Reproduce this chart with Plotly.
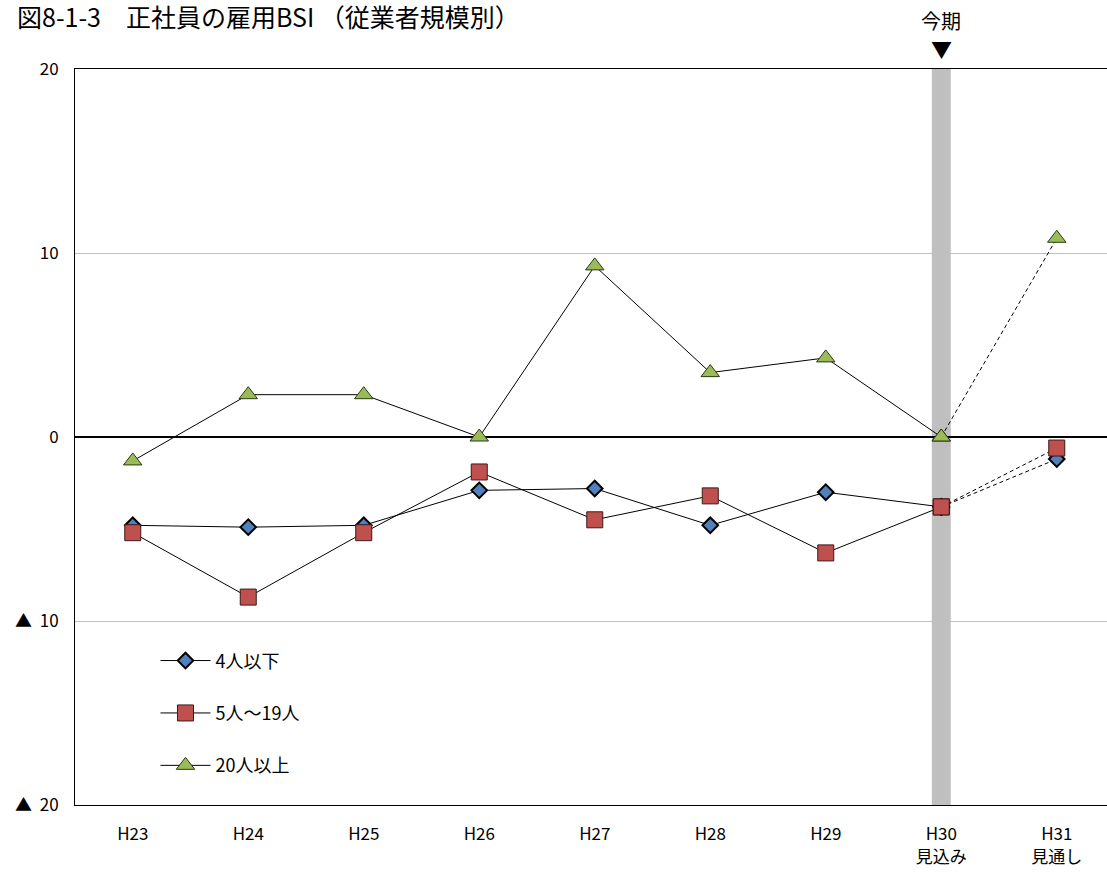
import plotly.graph_objects as go

categories = ["H23", "H24", "H25", "H26", "H27", "H28", "H29", "H30<br>見込み", "H31<br>見通し"]
s_small = [-4.8, -4.9, -4.8, -2.9, -2.8, -4.8, -3.0, -3.8, -1.2]   # 4人以下
s_mid = [-5.2, -8.7, -5.2, -1.9, -4.5, -3.2, -6.3, -3.8, -0.6]     # 5人～19人
s_large = [-1.3, 2.3, 2.3, 0.0, 9.3, 3.5, 4.3, 0.0, 10.8]          # 20人以上
series_names = ["4人以下", "5人～19人", "20人以上"]
y_ticks = [20, 10, 0, -10, -20]
y_tick_labels = ["20", "10", "0", "▲  10", "▲  20"]

FONT = "Noto Sans CJK JP"
x_idx = list(range(len(categories)))

styles = [
    dict(symbol="diamond", size=12, color="#4F81BD", line=dict(color="#000000", width=2)),
    dict(symbol="square", size=16, color="#C0504D", line=dict(color="#3a1a19", width=1)),
    dict(symbol="triangle-up", size=16, color="#9BBB59", line=dict(color="#2b3a14", width=1)),
]

fig = go.Figure()
all_series = [s_small, s_mid, s_large]
# dashed forecast segments first (drawn underneath)
for vals, st in zip(all_series, styles):
    fig.add_trace(go.Scatter(
        x=x_idx[7:], y=vals[7:], mode="lines+markers",
        line=dict(color="black", width=1, dash="4px,3px"),
        marker=st, showlegend=False, hoverinfo="skip"))
for i, (vals, st, name) in enumerate(zip(all_series, styles, series_names)):
    fig.add_trace(go.Scatter(
        x=x_idx[:8], y=vals[:8], mode="lines+markers", name=name,
        legendgroup=f"g{i}",
        line=dict(color="black", width=1),
        marker=st))

fig.add_shape(type="rect", xref="x", yref="paper", x0=7 - 0.082, x1=7 + 0.082,
              y0=0, y1=1, fillcolor="#BFBFBF", line=dict(width=0), layer="below")

fig.update_layout(
    width=1107, height=876,
    margin=dict(l=75, r=0, t=69, b=71),
    paper_bgcolor="white", plot_bgcolor="white",
    font=dict(family=FONT, size=17, color="black"),
    title=dict(text="図8-1-3　正社員の雇用BSI （従業者規模別）", xref="container", yref="container",
               x=17 / 1107, xanchor="left", y=1 - 18 / 876, yanchor="middle",
               font=dict(family=FONT, size=25, color="black")),
    xaxis=dict(range=[-0.5, 8.435], tickvals=x_idx, ticktext=categories,
               showgrid=False, showline=True, linecolor="black", linewidth=1, mirror=True,
               ticks="", zeroline=False, tickfont=dict(size=17), automargin=False,
               ticklabelstandoff=14),
    yaxis=dict(range=[-20, 20], tickvals=y_ticks, ticktext=y_tick_labels,
               showgrid=True, gridcolor="#BFBFBF", gridwidth=1,
               zeroline=True, zerolinecolor="black", zerolinewidth=2,
               showline=True, linecolor="black", linewidth=1, ticks="",
               tickfont=dict(size=17), automargin=False, ticklabelstandoff=12),
    legend=dict(x=0.078, y=0.221, xanchor="left", yanchor="top", bgcolor="rgba(0,0,0,0)",
                tracegroupgap=26, font=dict(size=18), itemwidth=50),
    showlegend=True,
)

fig.add_annotation(x=7, y=1 + (69 - 20) / 736, xref="x", yref="paper", text="今期",
                   showarrow=False, font=dict(size=20), xanchor="center", yanchor="middle")
fig.add_annotation(x=7, y=1 + (69 - 48) / 736, xref="x", yref="paper", text="▼",
                   showarrow=False, font=dict(size=21), xanchor="center", yanchor="middle")

fig.write_html("out.html", config={"displayModeBar": False},
               post_script="document.body.style.margin='0';")
